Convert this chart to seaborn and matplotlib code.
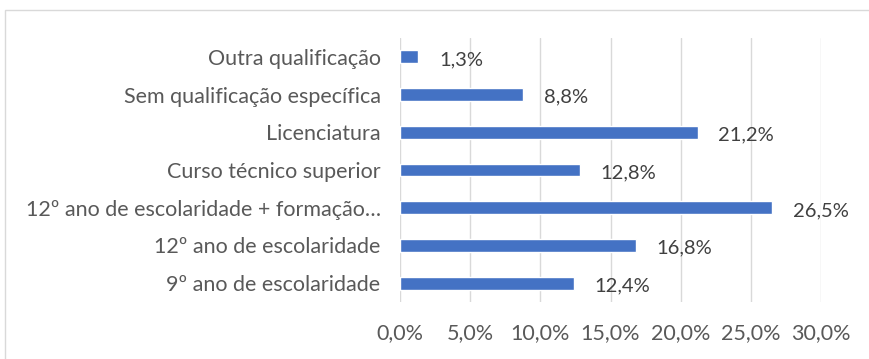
import matplotlib
matplotlib.use("Agg")
import matplotlib.pyplot as plt
import seaborn as sns
import pandas as pd
from matplotlib.patches import Rectangle

categorias = [
    "Outra qualificação",
    "Sem qualificação específica",
    "Licenciatura",
    "Curso técnico superior",
    "12º ano de escolaridade + formação…",
    "12º ano de escolaridade",
    "9º ano de escolaridade",
]
percentagens = [1.3, 8.8, 21.2, 12.8, 26.5, 16.8, 12.4]
ticks_x = [0, 5, 10, 15, 20, 25, 30]

df = pd.DataFrame({"categoria": categorias, "valor": percentagens})

sns.set_theme(style="white")
plt.rcParams["font.family"] = ["Lato", "DejaVu Sans"]

texto = "#595959"
texto_valor = "#404040"
azul = "#4472C4"
grelha = "#D9D9D9"

W, H = 869, 359
fig = plt.figure(figsize=(W / 100, H / 100), dpi=100)
ax = fig.add_axes([400 / W, 1 - 302 / H, 421 / W, 264 / H])

# chart frame
fig.patches.append(Rectangle((5 / W, -0.05), 1.0, 1 - 10 / H + 0.05,
                             transform=fig.transFigure, fill=False,
                             edgecolor="#D9D9D9", linewidth=1.0))

sns.barplot(data=df, y="categoria", x="valor", orient="h", color=azul,
            width=0.34, saturation=1, ax=ax, zorder=3)

ax.set_xlim(0, 30)
ax.set_xticks(ticks_x)
ax.set_xticklabels([f"{t:.1f}%".replace(".", ",") for t in ticks_x])
ax.set_xlabel("")
ax.set_ylabel("")
ax.grid(axis="x", color=grelha, linewidth=1.0, zorder=0)
ax.grid(axis="y", visible=False)
for s in ax.spines.values():
    s.set_visible(False)

ax.tick_params(axis="x", length=0, pad=15, labelsize=15.5, labelcolor=texto)
ax.tick_params(axis="y", length=0, pad=14, labelsize=15.5, labelcolor=texto)

# value labels just past the bar ends
for i, v in enumerate(percentagens):
    lbl = f"{v:.1f}%".replace(".", ",")
    ax.annotate(lbl, xy=(v, i), xytext=(15, -2), textcoords="offset points",
                ha="left", va="center", fontsize=14.5, color=texto_valor,
                annotation_clip=False, zorder=4)

fig.savefig("out.png", dpi=100)
